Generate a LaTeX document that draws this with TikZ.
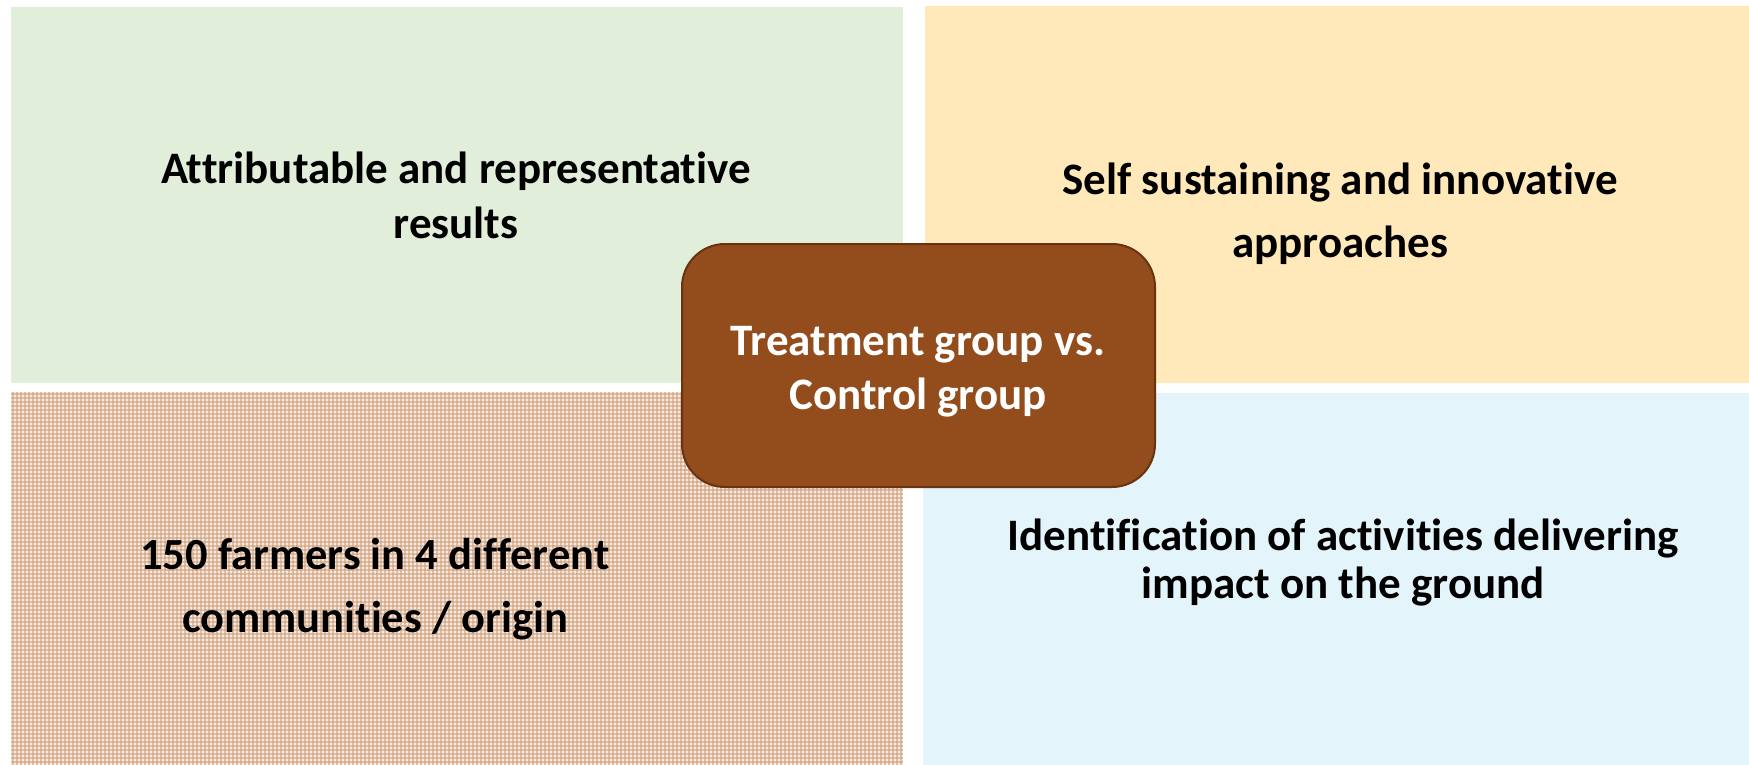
\documentclass[tikz,border=0pt]{standalone}
\usepackage{fontspec}
\setmainfont{Carlito}[Ligatures={NoCommon}]
\usepackage{xcolor}
\usepackage{tikz}
\definecolor{quad-green}{RGB}{224, 238, 218}
\definecolor{quad-yellow}{RGB}{255, 233, 186}
\definecolor{quad-blue}{RGB}{227, 244, 250}
\definecolor{quad-tan0}{RGB}{247, 234, 224}
\definecolor{quad-tan1}{RGB}{205, 156, 120}
\definecolor{hub-brown0}{RGB}{147, 76, 28}
\definecolor{hub-brown1}{RGB}{104, 52, 16}

\begin{document}
\begin{tikzpicture}[x=1pt, y=-1pt, quadtext/.style={align=center, inner sep=0pt}]
          \useasboundingbox (0, 0) rectangle (1749, 765);
          \fill[quad-green] (11, 7) rectangle (903, 383);
          \fill[quad-yellow] (925, 6) rectangle (1749, 383);
          \fill[quad-tan0] (11, 392) rectangle (903, 765);
          \begin{scope}
            \clip (11, 392) rectangle (903, 765);
            \foreach \gx in {13, 17, ..., 905} \draw[quad-tan1, line width=1.5pt, opacity=.55] (\gx, 392) -- (\gx, 765);
            \foreach \gy in {394, 398, ..., 767} \draw[quad-tan1, line width=1.5pt, opacity=.55] (11, \gy) -- (903, \gy);
          \end{scope}
          \fill[quad-blue] (923, 393) rectangle (1749, 765);

          \node[quadtext, font={\bfseries\fontsize{45}{55}\selectfont}] (results) at (456, 195) {Attributable and representative\\results};
          \node[quadtext, font={\bfseries\fontsize{45}{63}\selectfont}] (approaches) at (1340, 214) {Self sustaining and innovative\\approaches};
          \node[quadtext, font={\bfseries\fontsize{44.5}{63}\selectfont}] (farmers) at (375, 589) {150 farmers in 4 different\\communities / origin};
          \node[quadtext, font={\bfseries\fontsize{45}{48}\selectfont}] (impact) at (1343, 563) {Identification of activities delivering\\impact on the ground};

          \draw[fill=hub-brown0, draw=hub-brown1, line width=2pt, rounded corners=43pt] (682, 244) rectangle (1155, 487);
          \node[quadtext, text=white, font={\bfseries\fontsize{45}{54}\selectfont}] (groups) at (918, 372) {Treatment group vs.\\Control group};
        \end{tikzpicture}
\end{document}
